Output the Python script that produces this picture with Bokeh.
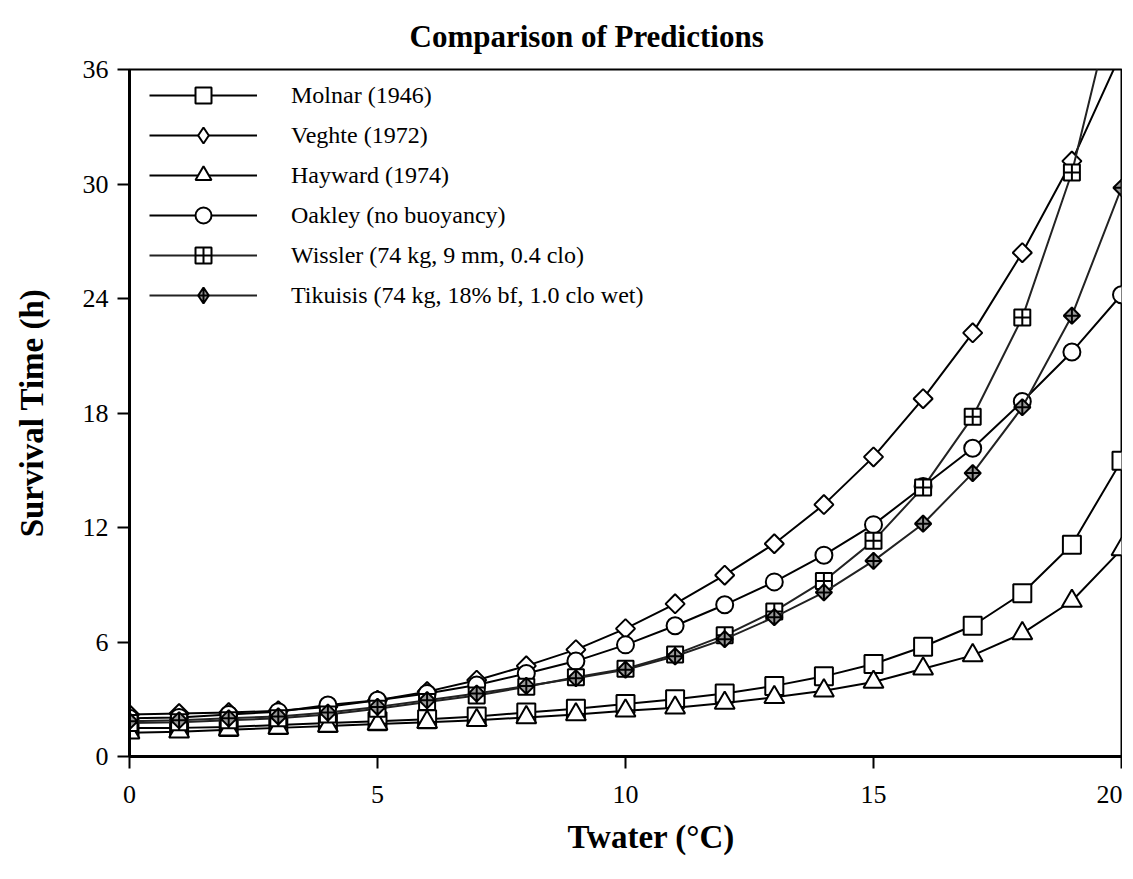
import numpy as np
from bokeh.plotting import figure
from bokeh.models import Range1d, FixedTicker, Legend, Title
from bokeh.embed import file_html
from bokeh.resources import INLINE

# ---- data ----
twater = list(range(21))
molnar = [1.5, 1.5, 1.55, 1.65, 1.75, 1.85, 1.95, 2.1, 2.3, 2.5, 2.75, 3.0, 3.3, 3.7, 4.2, 4.85, 5.75, 6.85, 8.55, 11.1, 15.5]
veghte = [2.2, 2.25, 2.3, 2.4, 2.6, 2.95, 3.4, 4.0, 4.75, 5.6, 6.7, 8.0, 9.5, 11.15, 13.2, 15.7, 18.75, 22.2, 26.4, 31.2, 36.9]
hayward = [1.25, 1.3, 1.4, 1.5, 1.6, 1.7, 1.8, 1.9, 2.05, 2.2, 2.4, 2.55, 2.8, 3.1, 3.45, 3.9, 4.6, 5.3, 6.45, 8.15, 10.85]
oakley = [2.0, 2.05, 2.2, 2.35, 2.7, 2.95, 3.3, 3.75, 4.35, 5.0, 5.85, 6.85, 7.95, 9.15, 10.55, 12.15, 14.15, 16.15, 18.6, 21.2, 24.2]
wissler = [1.75, 1.8, 1.9, 2.0, 2.2, 2.5, 2.85, 3.2, 3.65, 4.15, 4.6, 5.35, 6.35, 7.6, 9.2, 11.3, 14.1, 17.8, 23.0, 30.6, 41.3]
tikuisis = [1.85, 1.9, 2.0, 2.1, 2.3, 2.6, 2.95, 3.3, 3.7, 4.1, 4.55, 5.25, 6.15, 7.3, 8.6, 10.25, 12.2, 14.85, 18.3, 23.1, 29.8]

labels = ["Molnar (1946)", "Veghte (1972)", "Hayward (1974)", "Oakley (no buoyancy)",
          "Wissler (74 kg, 9 mm, 0.4 clo)", "Tikuisis (74 kg, 18% bf, 1.0 clo wet)"]
x_ticks = [0, 5, 10, 15, 20]
y_ticks = [0, 6, 12, 18, 24, 30, 36]

FONT = "Liberation Serif"

p = figure(width=1122, height=869, output_backend="svg", toolbar_location=None,
           x_range=Range1d(0, 20), y_range=Range1d(0, 36),
           min_border_left=129, min_border_right=1, min_border_top=69, min_border_bottom=110)
# range used only to draw legend swatches (its marks fall outside the frame)
p.extra_y_ranges = {"legend_only": Range1d(1000, 1001)}

p.title.text = "Comparison of Predictions"
p.title.align = "left"
p.title.offset = 280
p.title.text_font = FONT
p.title.text_font_size = "31px"
p.title.text_font_style = "bold"
p.title.text_color = "black"
p.title.standoff = 32

p.xgrid.visible = False
p.ygrid.visible = False
p.outline_line_color = "black"
p.outline_line_width = 2

for ax, ticks in ((p.xaxis[0], x_ticks), (p.yaxis[0], y_ticks)):
    ax.ticker = FixedTicker(ticks=ticks)
    ax.minor_tick_line_color = None
    ax.major_tick_in = 0
    ax.major_tick_out = 12
    ax.major_tick_line_width = 2
    ax.axis_line_width = 3
    ax.major_label_text_font = FONT
    ax.major_label_text_font_size = "26px"
    ax.major_label_text_color = "black"
    ax.axis_label_text_font = FONT
    ax.axis_label_text_font_size = "33px"
    ax.axis_label_text_font_style = "bold"
    ax.axis_label_text_color = "black"

p.yaxis.axis_label = "Survival Time (h)"
p.xaxis.major_label_standoff = 17
p.yaxis.major_label_standoff = 9
p.yaxis.axis_label_standoff = 30

xlab = Title(text="Twater (°C)", align="left", offset=438, vertical_align="top",
             text_font=FONT, text_font_size="33px", text_font_style="bold",
             text_color="black", standoff=26)
p.add_layout(xlab, "below")

series = [molnar, veghte, hayward, oakley, wissler, tikuisis]
# (plot marker, size, angle, fill, legend marker)
markers = [("square", 18, 0.0, "white", "square"),
           ("square", 13.5, np.pi / 4, "white", "diamond"),
           ("triangle", 20, 0.0, "white", "triangle"),
           ("circle", 17, 0.0, "white", "circle"),
           ("square_cross", 16, 0.0, "white", "square_cross"),
           ("square_x", 11.5, np.pi / 4, "#9a9a9a", "diamond_cross")]
line_colors = ["black", "black", "black", "black", "#222222", "#222222"]
line_widths = [2, 2, 2, 2, 2, 2]

items = []
for ys, lab, (mk, sz, ang, fc, lmk), lc, lw in zip(series, labels, markers, line_colors, line_widths):
    r1 = p.line(twater, ys, line_color=lc, line_width=lw)
    r2 = p.scatter(twater, ys, marker=mk, size=sz, angle=ang, fill_color=fc,
                   line_color="black", line_width=2)
    if lmk != mk or ang != 0.0:
        r3 = p.scatter(twater, ys, marker=lmk, size=sz, fill_color=fc,
                       line_color="black", line_width=2, y_range_name="legend_only")
        items.append((lab, [r1, r3]))
    else:
        items.append((lab, [r1, r2]))

legend = Legend(items=items, location=(20, 441))
legend.label_text_font = FONT
legend.label_text_font_size = "24px"
legend.label_text_color = "black"
legend.glyph_width = 108
legend.glyph_height = 40
legend.label_height = 40
legend.spacing = 0
legend.label_standoff = 34
legend.padding = 0
legend.margin = 0
legend.border_line_alpha = 0
legend.background_fill_alpha = 0
p.add_layout(legend, "center")

open("out.html", "w").write(file_html(p, INLINE))
